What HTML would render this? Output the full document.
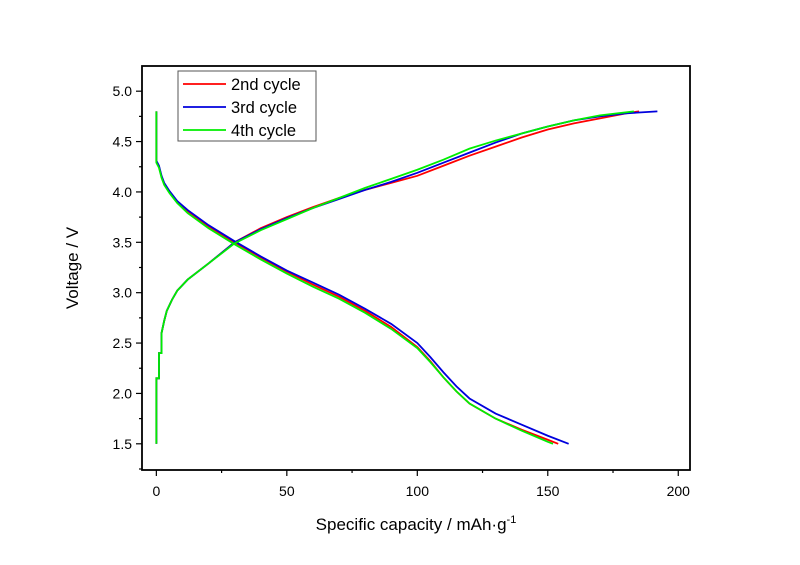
<!DOCTYPE html>
<html><head><meta charset="utf-8"><style>
body{margin:0;background:#fff;}
svg{display:block;font-family:"Liberation Sans",Arial,sans-serif;}
</style></head><body>
<svg id="chart" width="800" height="565"></svg>
<script>
const xTicks=[0,50,100,150,200];
const yTicks=[1.5,2.0,2.5,3.0,3.5,4.0,4.5,5.0];
const seriesNames=["2nd cycle","3rd cycle","4th cycle"];
const seriesColors=["#ff0000","#0000dd","#00ee00"];
const charge2=[[0,1.5],[0,2.15],[1,2.15],[1,2.4],[2,2.4],[2,2.6],[3,2.72],[4,2.82],[6,2.93],[8,3.02],[12,3.13],[20,3.29],[30,3.5],[40,3.64],[50,3.75],[60,3.85],[70,3.94],[80,4.02],[90,4.09],[100,4.16],[110,4.26],[120,4.36],[130,4.45],[140,4.54],[150,4.62],[160,4.68],[170,4.73],[180,4.78],[185,4.8]];
const charge3=[[0,1.5],[0,2.15],[1,2.15],[1,2.4],[2,2.4],[2,2.6],[3,2.72],[4,2.82],[6,2.93],[8,3.02],[12,3.13],[20,3.29],[30,3.5],[40,3.63],[50,3.74],[60,3.84],[70,3.93],[80,4.02],[90,4.1],[100,4.19],[110,4.29],[120,4.39],[130,4.49],[140,4.58],[150,4.65],[160,4.71],[170,4.75],[180,4.78],[192,4.8]];
const charge4=[[0,1.5],[0,2.15],[1,2.15],[1,2.4],[2,2.4],[2,2.6],[3,2.72],[4,2.82],[6,2.93],[8,3.02],[12,3.13],[20,3.29],[30,3.49],[40,3.62],[50,3.73],[60,3.84],[70,3.94],[80,4.04],[90,4.13],[100,4.22],[110,4.32],[120,4.43],[130,4.51],[140,4.58],[150,4.65],[160,4.71],[170,4.76],[183,4.8]];
const dis2=[[0,4.8],[0,4.3],[1,4.25],[2,4.15],[3,4.08],[5,4.0],[8,3.9],[12,3.81],[20,3.66],[30,3.5],[40,3.35],[50,3.21],[60,3.08],[70,2.96],[80,2.82],[90,2.66],[100,2.46],[105,2.32],[110,2.16],[115,2.02],[120,1.9],[130,1.75],[140,1.64],[150,1.54],[154,1.5]];
const dis3=[[0,4.8],[0,4.31],[1,4.26],[2,4.16],[3,4.09],[5,4.01],[8,3.91],[12,3.82],[20,3.67],[30,3.51],[40,3.36],[50,3.22],[60,3.1],[70,2.98],[80,2.84],[90,2.69],[100,2.5],[105,2.36],[110,2.21],[115,2.07],[120,1.95],[130,1.8],[140,1.69],[150,1.58],[158,1.5]];
const dis4=[[0,4.8],[0,4.29],[1,4.24],[2,4.14],[3,4.07],[5,3.99],[8,3.89],[12,3.79],[20,3.64],[30,3.48],[40,3.33],[50,3.19],[60,3.06],[70,2.94],[80,2.8],[90,2.64],[100,2.45],[105,2.31],[110,2.16],[115,2.02],[120,1.9],[130,1.75],[140,1.63],[150,1.52],[152,1.5]];
const ns="http://www.w3.org/2000/svg";
const svg=document.getElementById('chart');
const L=142,R=690,T=66,B=470,xmin=-5.5,xmax=204.5,ymin=1.24,ymax=5.25;
const sx=v=>L+(v-xmin)/(xmax-xmin)*(R-L);
const sy=v=>B-(v-ymin)/(ymax-ymin)*(B-T);
function el(t,a,txt){const e=document.createElementNS(ns,t);for(const k in a)e.setAttribute(k,a[k]);if(txt!==undefined)e.textContent=txt;svg.appendChild(e);return e;}
const series=[[charge2,dis2],[charge3,dis3],[charge4,dis4]];
series.forEach((pair,i)=>{pair.forEach((d,j)=>{
 const p=el('polyline',{points:d.map(q=>sx(q[0])+','+sy(q[1])).join(' '),fill:'none',stroke:seriesColors[i],'stroke-width':1.8});
 
 
});});
const box=el('rect',{x:L,y:T,width:R-L,height:B-T,fill:'none',stroke:'#000','stroke-width':1.8});

xTicks.forEach(v=>{
 el('line',{x1:sx(v),x2:sx(v),y1:B,y2:B+6,stroke:'#000','stroke-width':1.2});
 const t=el('text',{x:sx(v),y:B+26,'text-anchor':'middle','font-size':14},String(v));
 
});
for(let v=25;v<200;v+=50)el('line',{x1:sx(v),x2:sx(v),y1:B,y2:B+3,stroke:'#000','stroke-width':1.2});
yTicks.forEach(v=>{
 el('line',{x1:L-6,x2:L,y1:sy(v),y2:sy(v),stroke:'#000','stroke-width':1.2});
 const t=el('text',{x:L-10,y:sy(v)+5,'text-anchor':'end','font-size':14},v.toFixed(1));
 
});
for(let v=1.25;v<5.25;v+=0.5)el('line',{x1:L-3,x2:L,y1:sy(v),y2:sy(v),stroke:'#000','stroke-width':1.2});
const xt=el('text',{x:(L+R)/2,y:530,'text-anchor':'middle','font-size':17},'Specific capacity / mAh·g');
const sup=document.createElementNS(ns,'tspan');sup.setAttribute('dy','-7');sup.setAttribute('font-size','11');sup.textContent='-1';xt.appendChild(sup);

const yt=el('text',{x:0,y:0,'text-anchor':'middle','font-size':17,transform:'translate(78,'+((T+B)/2)+') rotate(-90)'},'Voltage / V');

const lg=el('rect',{x:178,y:71,width:138,height:70,fill:'#fff',stroke:'#555','stroke-width':1});

seriesNames.forEach((n,i)=>{
 const y=84+i*23;
 el('line',{x1:183,x2:226,y1:y,y2:y,stroke:seriesColors[i],'stroke-width':1.8});
 const t=el('text',{x:231,y:y+6,'font-size':16.5},n);
 
});
</script>
</body></html>
